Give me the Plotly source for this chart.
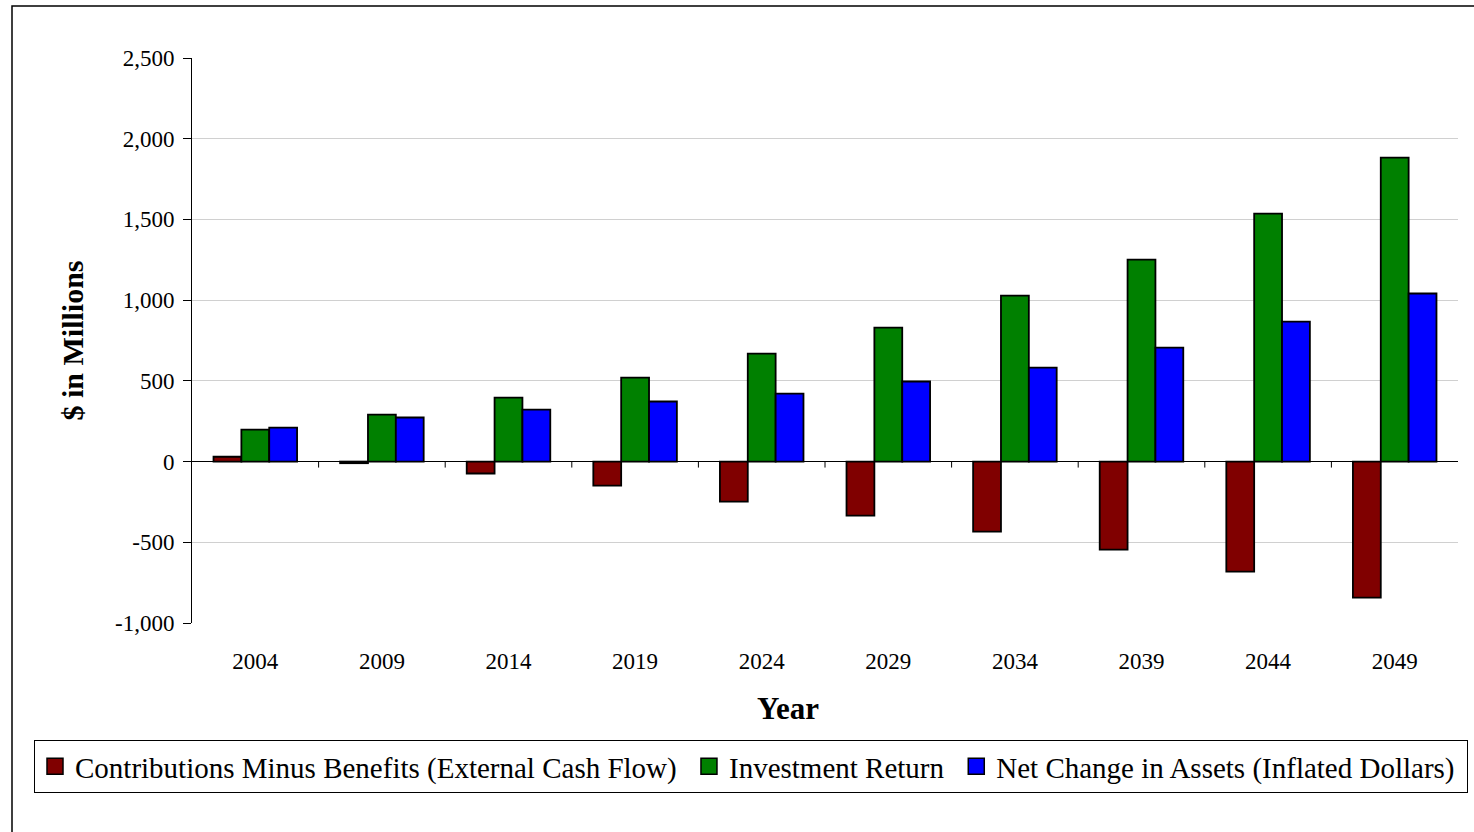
import plotly.graph_objects as go

years = ["2004", "2009", "2014", "2019", "2024", "2029", "2034", "2039", "2044", "2049"]
contrib_minus_benefits = [30, -10, -74, -149, -248, -335, -434, -545, -682, -843]
investment_return = [198, 291, 396, 520, 669, 830, 1028, 1251, 1536, 1883]
net_change = [210, 273, 322, 372, 421, 496, 582, 706, 867, 1041]

y_tickvals = [-1000, -500, 0, 500, 1000, 1500, 2000, 2500]
y_ticktext = ["-1,000", "-500", "0", "500", "1,000", "1,500", "2,000", "2,500"]

series = [
    ("Contributions Minus Benefits (External Cash Flow)", contrib_minus_benefits, "#800000"),
    ("Investment Return", investment_return, "#008000"),
    ("Net Change in Assets (Inflated Dollars)", net_change, "#0000FF"),
]

FONT = "Liberation Serif, Times New Roman, serif"

fig = go.Figure()
for name, vals, color in series:
    fig.add_trace(go.Bar(
        x=years, y=vals, name=name, showlegend=False,
        marker=dict(color=color, line=dict(color="black", width=1.8)),
    ))
# legend entries with larger square swatches
for name, vals, color in series:
    fig.add_trace(go.Scatter(
        x=[years[0]], y=[None], name=name + "\u00a0", mode="markers", hoverinfo="skip",
        marker=dict(symbol="square", size=18, color=color, line=dict(color="black", width=1.5)),
    ))

# category boundary tick marks on the zero line
for i in range(1, len(years)):
    fig.add_shape(type="line", xref="x", yref="y", x0=i - 0.5, x1=i - 0.5,
                  ysizemode="pixel", yanchor=0, y0=0, y1=-6,
                  line=dict(color="black", width=1))

# outer chart frame
fig.add_shape(type="rect", xref="paper", yref="paper",
              x0=(12 - 192) / 1266, x1=(1480 - 192) / 1266,
              y0=(623 - 840) / 565, y1=(623 - 6) / 565,
              line=dict(color="black", width=1.5), fillcolor="rgba(0,0,0,0)", layer="below")

# x-axis title (placed slightly left of centre, as in the original)
fig.add_annotation(text="<b>Year</b>", xref="paper", yref="paper",
                   x=(788 - 192) / 1266, y=(623 - 708) / 565,
                   xanchor="center", yanchor="middle", showarrow=False,
                   font=dict(family=FONT, size=31, color="black"))

fig.update_layout(
    width=1474, height=832,
    margin=dict(l=192, r=16, t=58, b=209),
    paper_bgcolor="white", plot_bgcolor="white",
    barmode="group", bargap=0.34, bargroupgap=0,
    font=dict(family=FONT, color="black", size=23),
    showlegend=True,
    legend=dict(
        orientation="h", x=(34 - 192) / 1266, y=(623 - 740) / 565,
        xanchor="left", yanchor="top",
        bordercolor="black", borderwidth=1,
        font=dict(family=FONT, size=29, color="black"),
        itemwidth=30, tracegroupgap=0,
    ),
    xaxis=dict(
        range=[-0.5, len(years) - 0.5],
        showgrid=False, showline=False, ticks="",
        tickfont=dict(family=FONT, size=23),
        ticklabelstandoff=22,
    ),
    yaxis=dict(
        range=[-1000, 2500], tickvals=y_tickvals, ticktext=y_ticktext,
        showgrid=True, gridcolor="#D0D0D0", gridwidth=1,
        showline=True, linecolor="black", linewidth=1,
        ticks="outside", ticklen=8, tickcolor="black",
        ticklabelstandoff=4,
        zeroline=True, zerolinecolor="black", zerolinewidth=1,
        tickfont=dict(family=FONT, size=23),
        title=dict(text="<b>$ in Millions</b>", font=dict(family=FONT, size=30), standoff=22),
    ),
)

fig.write_html("out.html")
